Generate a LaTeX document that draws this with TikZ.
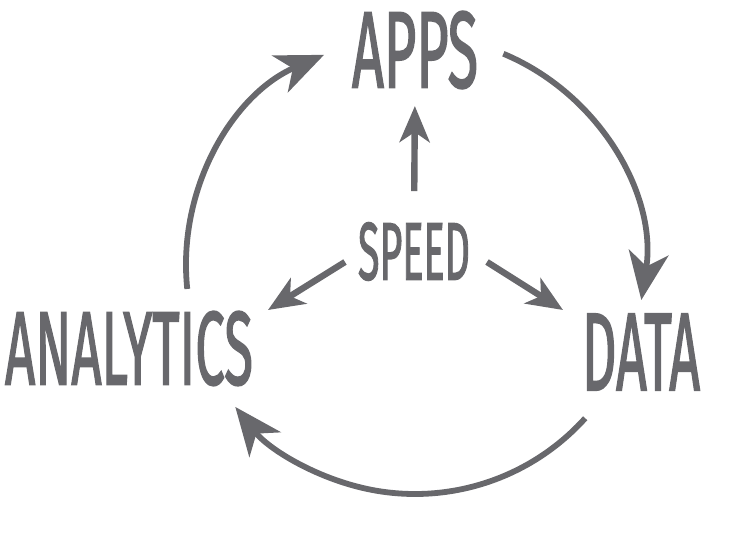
\documentclass[tikz,border=0pt]{standalone}
\usepackage{fontspec}
\newfontfamily\labelfont{Fira Sans}[FakeBold=2]
\usetikzlibrary{arrows.meta, positioning}
\definecolor{ink}{RGB}{104,104,108}
\tikzset{
  word/.style={inner sep=0pt, text=ink, font=\labelfont},
  ring/.style={draw=ink, line width=2.9pt, -{Stealth[length=24pt, width=20pt, inset=7pt]}},
  spoke/.style={draw=ink, line width=3.2pt, -{Stealth[length=18pt, width=15pt, inset=5pt]}}
}
\begin{document}
\begin{tikzpicture}[x=0.5pt, y=0.5pt]
    \useasboundingbox (0,0) rectangle (735,-551);

    % Labels
    \node[word] (apps) at (415,-50) {\resizebox{63pt}{38pt}{APPS}};
    \node[word] (speed) at (414,-251.5) {\resizebox{56pt}{28.5pt}{SPEED}};
    \node[word] (data) at (641,-352) {\resizebox{59pt}{38pt}{DATA}};
    \node[word] (analytics) at (129,-348.5) {\resizebox{124pt}{36.5pt}{ANALYTICS}};

    % Cycle round the hub
    \coordinate (hub) at (415,-265);
    \draw[ring] (hub) ++(186:114.5pt) arc[start angle=186, end angle=113.4, radius=114.5pt];
    \draw[ring] (hub) ++(67.3:114.5pt) arc[start angle=67.3, end angle=-8.8, radius=114.5pt];
    \draw[ring] (hub) ++(-42:114.5pt) arc[start angle=-42, end angle=-141.7, radius=114.5pt];

    % Spokes from SPEED
    \draw[spoke, shorten <=15.5pt, shorten >=8.5pt] (speed.north) -- (apps.south);
    \coordinate (toleft) at (345,-262);
    \coordinate (leftend) at (268,-310);
    \coordinate (toright) at (487,-262);
    \coordinate (rightend) at (563,-310);
    \draw[spoke] (toleft) -- (leftend);
    \draw[spoke] (toright) -- (rightend);
\end{tikzpicture}
\end{document}
